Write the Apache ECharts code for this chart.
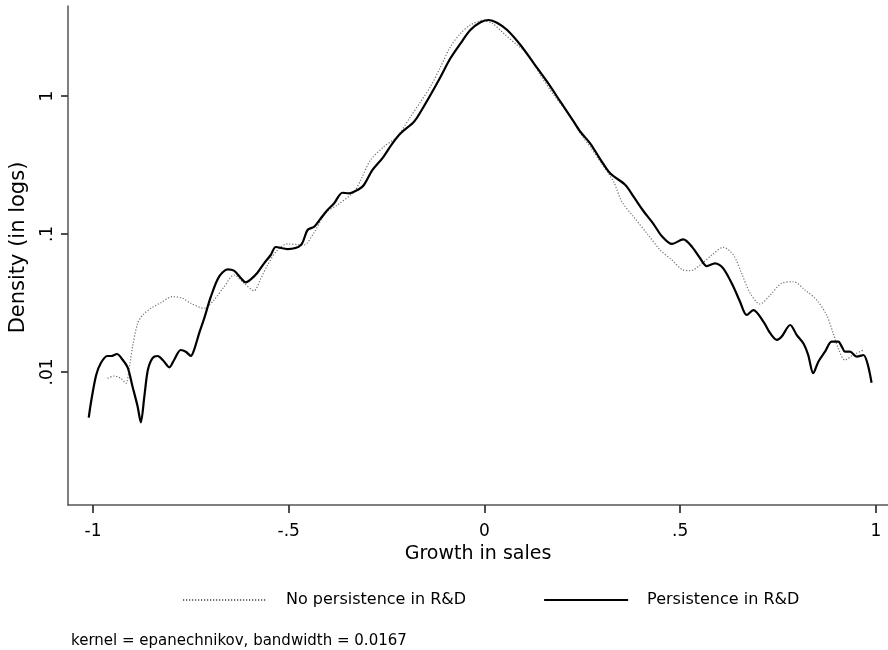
<!DOCTYPE html>
<html>
<head>
<meta charset="utf-8">
<script src="https://cdn.jsdelivr.net/npm/echarts@6/dist/echarts.min.js"></script>
<style>html,body{margin:0;padding:0;background:#fff;}#c{width:888px;height:650px;}</style>
</head>
<body>
<div id="c"></div>
<script>
// Growth in sales (x) for each series
const noPersistX = [-0.963,-0.946,-0.929,-0.916,-0.907,-0.899,-0.886,-0.873,-0.852,-0.827,-0.797,-0.771,-0.750,-0.716,-0.691,-0.665,-0.640,-0.614,-0.589,-0.571,-0.554,-0.529,-0.503,-0.462,-0.436,-0.406,-0.376,-0.333,-0.316,-0.291,-0.257,-0.223,-0.189,-0.163,-0.138,-0.112,-0.087,-0.061,-0.036,-0.006,0.020,0.049,0.083,0.109,0.143,0.177,0.211,0.245,0.270,0.296,0.330,0.351,0.381,0.415,0.449,0.479,0.504,0.526,0.551,0.581,0.610,0.636,0.657,0.679,0.704,0.730,0.759,0.789,0.819,0.849,0.874,0.891,0.904,0.921,0.942,0.968];
const noPersistY = [0.00900,0.00935,0.00900,0.00828,0.01092,0.01526,0.02254,0.02588,0.02896,0.03177,0.03513,0.03420,0.03147,0.02896,0.03324,0.04150,0.05045,0.04393,0.03882,0.04775,0.05961,0.07656,0.0847,0.0832,0.1017,0.1419,0.1622,0.2026,0.2462,0.3436,0.4293,0.5070,0.7079,0.9090,1.168,1.630,2.277,2.846,3.269,3.513,3.363,2.846,2.342,2.039,1.419,1.017,0.769,0.537,0.429,0.334,0.2393,0.1714,0.1334,0.1012,0.0766,0.0648,0.0555,0.0542,0.0596,0.0705,0.0801,0.0705,0.0519,0.0372,0.0311,0.0361,0.0439,0.0451,0.0393,0.0332,0.0259,0.0191,0.0148,0.0122,0.0133,0.0144];

const persistX = [-1.011,-1.005,-0.992,-0.980,-0.964,-0.954,-0.939,-0.924,-0.911,-0.899,-0.886,-0.878,-0.869,-0.860,-0.848,-0.835,-0.822,-0.805,-0.793,-0.776,-0.763,-0.750,-0.742,-0.729,-0.716,-0.699,-0.678,-0.656,-0.640,-0.622,-0.610,-0.597,-0.580,-0.563,-0.546,-0.533,-0.503,-0.469,-0.452,-0.435,-0.418,-0.401,-0.384,-0.363,-0.346,-0.321,-0.308,-0.286,-0.261,-0.235,-0.214,-0.180,-0.163,-0.138,-0.112,-0.087,-0.061,-0.036,-0.010,0.011,0.032,0.058,0.092,0.126,0.160,0.194,0.228,0.245,0.270,0.296,0.321,0.360,0.381,0.406,0.432,0.453,0.479,0.508,0.530,0.551,0.568,0.589,0.610,0.636,0.653,0.670,0.687,0.713,0.730,0.747,0.759,0.781,0.798,0.815,0.827,0.840,0.853,0.870,0.887,0.904,0.913,0.921,0.934,0.951,0.968,0.989];
const persistY = [0.00467,0.00609,0.00951,0.01161,0.01306,0.01306,0.01350,0.01222,0.01069,0.00782,0.00561,0.00432,0.00662,0.01033,0.01263,0.01306,0.01222,0.01082,0.01222,0.01443,0.01403,0.01306,0.01443,0.01906,0.02449,0.03513,0.04907,0.05546,0.05420,0.04775,0.04467,0.04698,0.05245,0.06133,0.07046,0.0805,0.0778,0.0832,0.1069,0.1129,0.1300,0.1493,0.1669,0.1991,0.1972,0.2109,0.2265,0.2910,0.3536,0.4541,0.5370,0.6515,0.7693,1.017,1.380,1.876,2.409,3.008,3.420,3.555,3.398,3.008,2.342,1.726,1.270,0.909,0.651,0.551,0.454,0.348,0.2754,0.2265,0.1864,0.1468,0.1181,0.0967,0.0847,0.0915,0.0809,0.0667,0.0586,0.0613,0.0564,0.0415,0.0323,0.0259,0.0281,0.0231,0.0191,0.0171,0.0180,0.0219,0.0185,0.0161,0.0133,0.00979,0.01188,0.01403,0.01658,0.01658,0.01526,0.01403,0.01403,0.01291,0.01328,0.00836];

const xTicks = [-1, -0.5, 0, 0.5, 1];
const yTicks = [0.01, 0.1, 1];
const seriesNames = ['No persistence in R&D', 'Persistence in R&D'];
const noteText = 'kernel = epanechnikov, bandwidth = 0.0167';

const FONT = '"DejaVu Sans", "Liberation Sans", Arial, sans-serif';
const axisGray = '#555555';
const tickColor = '#3a3a3a';

function fmt(v) {
  let s = String(Math.round(v * 1000) / 1000);
  return s.replace(/^(-?)0\./, '$1.');
}

const zip = (xs, ys) => xs.map((x, i) => [x, ys[i]]);

const chart = echarts.init(document.getElementById('c'), null, {renderer: 'canvas'});
chart.setOption({
  animation: false,
  backgroundColor: '#ffffff',
  textStyle: {fontFamily: FONT},
  title: {
    text: noteText, left: 66, top: 629,
    textStyle: {fontFamily: FONT, fontSize: 15, fontWeight: 'normal', color: '#000'}
  },
  grid: {left: 67, right: 0, top: 6, bottom: 145},
  legend: {
    data: seriesNames,
    left: 177, top: 587,
    itemWidth: 84, itemHeight: 14, itemGap: 77,
    itemStyle: {opacity: 0},
    textStyle: {fontFamily: FONT, fontSize: 16, color: '#000', padding: [0, 0, 0, 14]}
  },
  xAxis: {
    type: 'value', min: -1.064, max: 1.031,
    name: 'Growth in sales', nameLocation: 'middle', nameGap: 28,
    nameTextStyle: {fontFamily: FONT, fontSize: 19, color: '#000'},
    axisLine: {show: true, onZero: false, lineStyle: {color: axisGray, width: 1.5}},
    axisTick: {show: true, length: 8, lineStyle: {color: tickColor, width: 1.8}, customValues: xTicks},
    axisLabel: {fontFamily: FONT, fontSize: 17, color: '#000', margin: 18, customValues: xTicks, formatter: fmt},
    splitLine: {show: false}
  },
  yAxis: {
    type: 'log', logBase: 10, min: 0.001087, max: 4.49,
    name: 'Density (in logs)', nameLocation: 'middle', nameGap: 39, nameRotate: 90,
    nameTextStyle: {fontFamily: FONT, fontSize: 21, color: '#000', padding: [0, 0, 0, 16]},
    axisLine: {show: true, onZero: false, lineStyle: {color: axisGray, width: 1.5}},
    axisTick: {show: true, length: 7, lineStyle: {color: tickColor, width: 1.8}, customValues: yTicks},
    axisLabel: {fontFamily: FONT, fontSize: 17, color: '#000', rotate: 90, margin: 12, customValues: yTicks, formatter: fmt},
    splitLine: {show: false}
  },
  series: [
    {
      name: seriesNames[0], type: 'line', data: zip(noPersistX, noPersistY),
      showSymbol: false, symbol: 'none', smooth: 0.3,
      lineStyle: {color: '#707070', width: 1.2, type: [1.2, 1.8]},
      itemStyle: {color: '#707070'}
    },
    {
      name: seriesNames[1], type: 'line', data: zip(persistX, persistY),
      showSymbol: false, symbol: 'none', smooth: 0.3,
      lineStyle: {color: '#000000', width: 2.2},
      itemStyle: {color: '#000000'}
    }
  ]
});
</script>
</body>
</html>
